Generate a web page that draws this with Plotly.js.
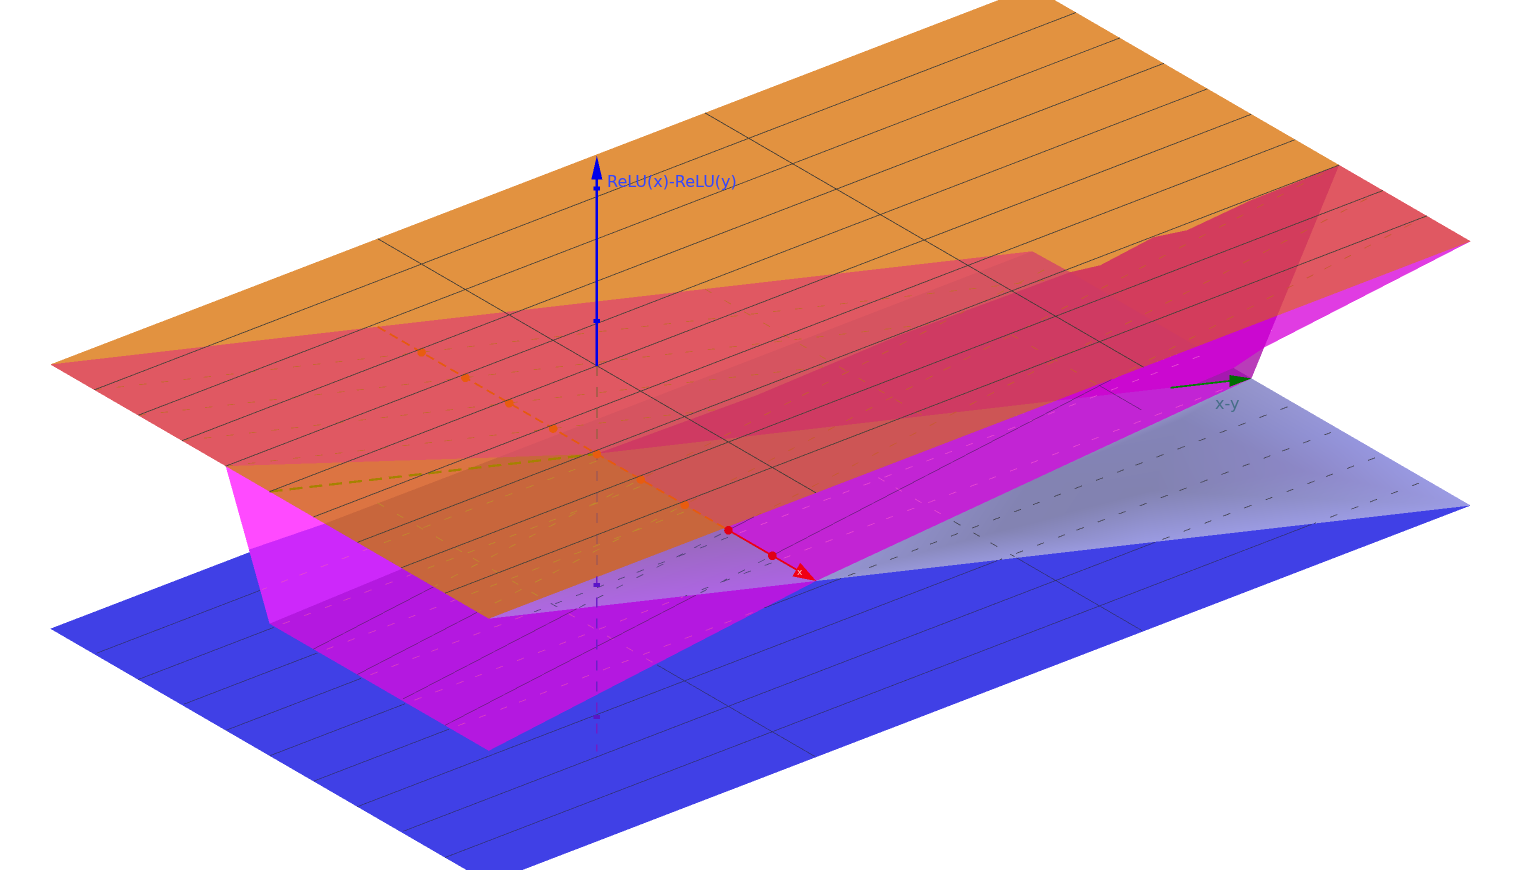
<!DOCTYPE html>
<html><head><meta charset="utf-8">
<script src="https://cdn.plot.ly/plotly-3.0.1.min.js"></script>
<style>html,body{margin:0;padding:0;background:#fff}#g{width:1521px;height:870px}</style>
</head><body><div id="g"></div>
<script>
// Model coordinates [s, t, z]; each list is one facet of the drawn surfaces.
const planeBottom=[[-5,-10,-1],[5,-10,-1],[5,10,-1],[-5,10,-1]];
const planeTop=[[-5,-10,1],[5,-10,1],[5,10,1],[-5,10,1]];
const redUpper=[[-5,-10,1],[-1,-10,1],[1.27,-6.48,1],[1.25,4.42,1]];
const redBand=[[1.25,4.42,1],[1.27,-6.48,1],[2.08,-5.19,1],[2.15,-2,1],[2.03,1,1],[2.09,4.44,1]];
const redDeepLeft=[[5,1.55,1],[2.08,-5.19,1],[2.15,-2,1],[2.03,1,1],[2.09,4.44,1],[5,4.42,1]];
const redDeepRight=[[5,4.42,1],[2.09,4.44,1],[2.20,4.955,1],[2.02,6.197,1],[2.16,6.76,1],[2.03,8.17,1],[2.02,9.05,1],[2,10,1],[5,6.06,1]];
const redCorner=[[2,10,1],[5,10,1],[5,6.06,1]];
const redLower=[[2.08,-5.19,1],[5,1.55,1],[5,-5.2,1]];
const orangeLight=[[-1,-10,1],[1.26,-10,1],[1.27,-6.48,1]];
const orangeDeep=[[5,-10,1],[5,-5.2,1],[2.08,-5.19,1],[1.27,-6.48,1],[1.26,-10,1]];
const wallBright=[[-1,-10,1],[-0.47,-10,0.47],[1.26,-10,1]];
const wallMid=[[-0.47,-10,0.47],[1.26,-10,1],[3.03,-10,1],[0,-10,0]];
const facetFront=[[5,-10,0],[0,-10,0],[3.03,-10,1],[5,-10,1],[5,-3.333,0.333]];
const facetBand=[[5,-5.2,1],[5,-3.333,0.333],[0,10,-1],[5,1.55,1]];
const facetUpper=[[5,1.55,1],[5,6.06,1],[0,10,-1]];
const facetEdge=[[5,6.06,1],[5,10,1],[0.29,10,-0.71]];
const foldLight=[[-0.41,10,-1],[0.29,10,-0.71],[0,10,-1]];
const foldDark=[[-0.37,9.13,-1],[-0.41,10,-1],[0,10,-1]];
const purpleVerts=[[5,-10,1],[5,-5.2,1],[5,-3.333,0.333]];
const purpleColors=['rgb(176,105,226)','rgb(150,105,185)','rgb(172,100,226)'];
const greyVerts=[[5,-3.333,0.333],[0,10,-1],[5,10,-1],[5,3.333,-0.333],[2.5,10,-1],[4.04,1.27,-0.127],[3.30,5,-0.5],[3.21,8.14,-0.814],[1.11,7.56,-0.756],[2.5,3.333,-0.333]];
const greyColors=['rgb(150,150,212)','rgb(150,150,205)','rgb(156,156,228)','rgb(155,155,226)','rgb(150,150,222)','rgb(131,131,178)','rgb(130,130,176)','rgb(140,135,198)','rgb(132,132,184)','rgb(131,131,178)'];
const greyI=[0,0,5,6,6,7,7,8,9,9,9,6];
const greyJ=[9,5,6,7,2,4,8,1,1,8,6,8];
const greyK=[5,3,3,2,3,2,4,4,8,6,5,7];
// grid positions
const gridS=[-4,-3,-2,-1,0,1,2,3,4];
const gridT=[-3.333,3.333];
const midLeftS=[-4,-3,-2,-1];
const midRightS=[1,2,3,4];
const zTicks=[1.34,2.34];
const zTicksBelow=[-0.66,-1.66];
const xTicksHidden=[-4,-3,-2,-1,0,1,2];
const xTicksShown=[3,4];

const regions=[
 [planeBottom,'rgb(64,64,230)','blue'],
 [wallBright,'rgb(255,74,255)','mag'],
 [wallMid,'rgb(205,40,250)','mag'],
 [facetFront,'rgb(180,24,224)','front'],
 [facetBand,'rgb(194,36,212)','mag'],
 [facetUpper,'rgb(203,8,208)','mag'],
 [facetEdge,'rgb(224,60,226)','mag'],
 [foldLight,'rgb(185,60,185)','mag'],
 [foldDark,'rgb(165,25,175)','mag'],
 [planeTop,'rgb(226,146,64)','orangeTop'],
 [redUpper,'rgb(224,88,98)','red'],
 [redBand,'rgb(214,84,96)','red'],
 [redDeepLeft,'rgb(207,58,98)','deep'],
 [redDeepRight,'rgb(211,60,92)','deep'],
 [redCorner,'rgb(224,88,98)','deep'],
 [redLower,'rgb(205,85,85)','deep'],
 [orangeLight,'rgb(220,116,66)','oz'],
 [orangeDeep,'rgb(200,102,60)','oz']
];
const ax=43.8,ay=25.4,bx=49.05,by=-18.85,zy=-132,cx=760.5,cy=434.5;
const scr=p=>[cx+ax*p[0]+bx*p[1],cy+ay*p[0]+by*p[1]+zy*p[2]];
function inside(pt,poly){let c=false;for(let i=0,j=poly.length-1;i<poly.length;j=i++){const a=poly[i],b=poly[j];
 if((a[1]>pt[1])!==(b[1]>pt[1])&&pt[0]<(b[0]-a[0])*(pt[1]-a[1])/(b[1]-a[1])+a[0])c=!c;}return c;}
const extraZones=[[purpleVerts,'purple'],[[greyVerts[0],greyVerts[3],greyVerts[2],greyVerts[4],greyVerts[1],greyVerts[9]],'grey']];
const screenRegions=regions.map(r=>[r[0].map(scr),r[2]]);
const lowZones=extraZones.map(r=>[r[0].map(scr),r[1]]);
function zoneOf(p){const q=scr(p);
 for(let i=screenRegions.length-1;i>=9;i--) if(inside(q,screenRegions[i][0])) return screenRegions[i][1];
 for(const r of lowZones) if(inside(q,r[0])) return r[1];
 for(let i=8;i>=0;i--) if(inside(q,screenRegions[i][0])) return screenRegions[i][1];
 return 'none';}
const hiddenColor={red:'rgb(197,104,48)',deep:'rgb(200,90,50)',oz:'rgb(192,136,46)',mag:'rgb(230,70,210)',front:'rgb(216,60,196)',purple:'rgb(85,70,125)',grey:'rgb(70,70,85)',blue:'rgb(48,48,110)'};

const traces=[];
function facet(v,color,i,j,k,vc){
 const n=v.length;const t={type:'mesh3d',x:v.map(p=>p[0]),y:v.map(p=>p[1]),z:v.map(p=>p[2]),opacity:0.999,flatshading:true,hoverinfo:'skip',showscale:false,
  lighting:{ambient:1,diffuse:0,specular:0,roughness:1,fresnel:0},
  i:i||Array.from({length:n-2},()=>0),j:j||Array.from({length:n-2},(_,q)=>q+1),k:k||Array.from({length:n-2},(_,q)=>q+2)};
 if(vc)t.vertexcolor=vc;else t.color=color;
 return t;}
function line(pts,color,width){return {type:'scatter3d',mode:'lines',x:pts.map(p=>p?p[0]:null),y:pts.map(p=>p?p[1]:null),z:pts.map(p=>p?p[2]:null),
 line:{color:color,width:width},opacity:0.999,hoverinfo:'skip',connectgaps:false};}
function dots(pts,color,size){return {type:'scatter3d',mode:'markers',x:pts.map(p=>p[0]),y:pts.map(p=>p[1]),z:pts.map(p=>p[2]),marker:{color:color,size:size,line:{width:0}},opacity:0.999,hoverinfo:'skip'};}
function dist(a,b){const p=scr(a),q=scr(b);return Math.hypot(p[0]-q[0],p[1]-q[1]);}
function lerp(a,b,u){return [a[0]+(b[0]-a[0])*u,a[1]+(b[1]-a[1])*u,a[2]+(b[2]-a[2])*u];}
function dashed(a,b,on,off){const L=dist(a,b),out=[];for(let d=0;d<L;d+=on+off){out.push(lerp(a,b,d/L),lerp(a,b,Math.min(d+on,L)/L),null);}return out;}

regions.slice(0,9).forEach(r=>traces.push(facet(r[0],r[1])));
traces.push(facet(purpleVerts,null,null,null,null,purpleColors));
traces.push(facet(greyVerts,null,greyI,greyJ,greyK,greyColors));
regions.slice(9).forEach(r=>traces.push(facet(r[0],r[1])));

// lower grid lines: continuous where seen directly, dashed where seen through another surface
const solidPts={},dashPts={};
function addLine(a,b,solidZones,skipZones){
 const L=dist(a,b),step=2.5,on=10,period=22;let prev=null;
 for(let d=0;d<=L;d+=step){const p=lerp(a,b,d/L),z=zoneOf(p);let key=null;
  if(z!=='none'&&z!=='orangeTop'&&skipZones.indexOf(z)<0){
   if(solidZones.indexOf(z)>=0)key='S'+z;else if((d%period)<on)key='D'+z;}
  if(key!==prev&&prev){const bag=prev[0]==='S'?solidPts:dashPts;bag[prev.slice(1)].push(null);}
  if(key){const bag=key[0]==='S'?solidPts:dashPts,name=key.slice(1);(bag[name]=bag[name]||[]).push(p);}
  prev=key;}
 if(prev){const bag=prev[0]==='S'?solidPts:dashPts;bag[prev.slice(1)].push(null);}
}
gridS.forEach(k=>addLine([k,-10,-1],[k,10,-1],['blue'],['red','deep']));
gridT.forEach(t=>addLine([-5,t,-1],[5,t,-1],['blue'],['red','deep']));
midLeftS.forEach(k=>addLine([k,-10,1],[k,10,-1],[],['deep','oz','mag','front','grey','purple','blue']));
midRightS.forEach(k=>addLine([k,-10,0],[k,10,1],['front','mag'],[]));
addLine([-5,3.333,-0.333],[0,3.333,-0.333],[],['mag','blue']);
addLine([2,3.333,0.667],[5,3.333,0.667],['mag'],[]);
Object.keys(dashPts).forEach(z=>traces.push(line(dashPts[z],hiddenColor[z],1.6)));
Object.keys(solidPts).forEach(z=>traces.push(line(solidPts[z],z==='blue'?'rgb(48,48,110)':'rgb(105,30,125)',1.3)));

// axes seen through the surfaces
traces.push(line(dashed([0,-3.333,1],[0,-3.333,-0.595],10,11),'rgb(172,92,76)',4));
traces.push(line(dashed([0,-3.333,-0.595],[0,-3.333,-1.92],10,11),'rgb(110,30,200)',3.5));
traces.push(line(dashed([0,-10,1],[0,-3.333,0.333],13,7),'rgb(165,130,0)',4.5));
traces.push(line(dashed([-5,-3.333,0.333],[3,-3.333,0.333],9,5),'rgb(230,90,15)',3.5));
traces.push(dots(xTicksHidden.map(s=>[s,-3.333,0.333]),'rgb(232,92,15)',5));
zTicksBelow.forEach(z=>traces.push(line([[0.03,-3.292,z],[-0.03,-3.374,z]],'rgb(90,20,200)',8)));

// grid lines of the top surface
gridS.forEach(k=>traces.push(line([[k,-10,1],[k,10,1]],'rgb(72,66,58)',1.6)));
gridT.forEach(t=>traces.push(line([[-5,t,1],[5,t,1]],'rgb(64,60,55)',1.6)));

// axes in front
traces.push(line([[0,-3.333,1],[0,-3.333,2.45]],'rgb(0,0,235)',5));
zTicks.forEach(z=>traces.push(line([[0.03,-3.292,z],[-0.03,-3.374,z]],'rgb(0,0,235)',8)));
traces.push(facet([[0,-3.333,2.59],[0.05,-3.265,2.41],[-0.05,-3.401,2.41]],'rgb(0,0,235)'));
traces.push(line([[3,-3.333,0.333],[4.7,-3.333,0.333]],'rgb(235,0,20)',3.5));
traces.push(dots(xTicksShown.map(s=>[s,-3.333,0.333]),'rgb(225,0,20)',5));
traces.push(facet([[5,-3.333,0.333],[4.55,-3.413,0.293],[4.55,-3.253,0.373]],'rgb(240,0,20)'));
traces.push(line([[0,8.35,-0.835],[0,9.6,-0.96]],'rgb(0,130,0)',3.5));
traces.push(facet([[0,10,-1],[0,9.55,-0.91],[0,9.55,-1.0]],'rgb(0,110,0)'));

const noAxis={visible:false,showgrid:false,zeroline:false,showspikes:false,showbackground:false};
const labelZ=[{x:-3.68,y:1.48,z:1,text:'ReLU(x)-ReLU(y)',showarrow:false,font:{family:'DejaVu Sans',size:16,color:'rgb(50,70,255)'}},
 {x:0.37,y:9.18,z:-1,text:'x-y',showarrow:false,font:{family:'DejaVu Sans',size:16,color:'rgb(70,110,135)'}},
 {x:4.63,y:-3.333,z:0.333,text:'x',showarrow:false,font:{family:'DejaVu Sans',size:9,color:'rgb(255,190,190)'}}];
const L=4,Q=1/0.522;
const layout={width:1521,height:870,margin:{l:0,r:0,t:0,b:0},paper_bgcolor:'#fff',showlegend:false,hovermode:false,
 scene:{domain:{x:[0,1],y:[0,1]},
  xaxis:Object.assign({range:[-6,6]},noAxis),yaxis:Object.assign({range:[-11,11]},noAxis),zaxis:Object.assign({range:[-3,3]},noAxis),
  aspectmode:'manual',aspectratio:{x:Q,y:Q*22*0.9117/12,z:Q*6*2.1583/12},
  camera:{projection:{type:'orthographic'},up:{x:0,y:0,z:1},center:{x:0,y:0,z:0},eye:{x:0.6835*L,y:-0.5565*L,z:0.4720*L}},
  annotations:labelZ}};
Plotly.newPlot('g',traces,layout,{displayModeBar:false});
</script></body></html>
